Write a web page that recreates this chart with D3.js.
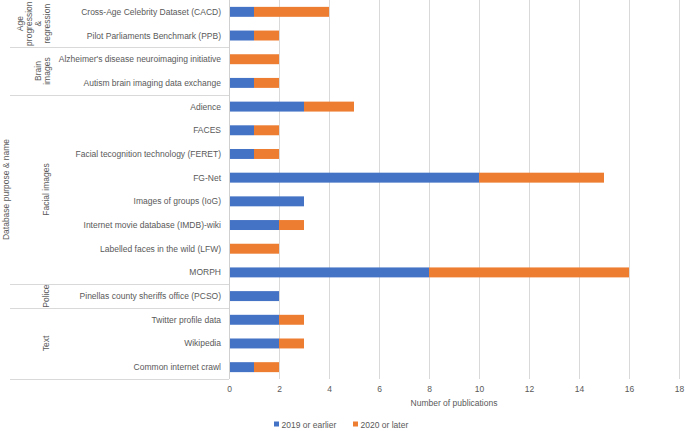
<!DOCTYPE html>
<html>
<head>
<meta charset="utf-8">
<script src="https://cdn.jsdelivr.net/npm/d3@7"></script>
<style>
  html, body { margin: 0; padding: 0; background: #fff; }
  svg { display: block; font-family: "Liberation Sans", Arial, sans-serif; }
</style>
</head>
<body>
<svg id="chart" width="685" height="431"></svg>
<script>
// ---- data ----
const categories = [
  "Cross-Age Celebrity Dataset (CACD)",
  "Pilot Parliaments Benchmark (PPB)",
  "Alzheimer's disease neuroimaging initiative",
  "Autism brain imaging data exchange",
  "Adience",
  "FACES",
  "Facial tecognition technology (FERET)",
  "FG-Net",
  "Images of groups (IoG)",
  "Internet movie database (IMDB)-wiki",
  "Labelled faces in the wild (LFW)",
  "MORPH",
  "Pinellas county sheriffs office (PCSO)",
  "Twitter profile data",
  "Wikipedia",
  "Common internet crawl"
];
const earlier = [1, 1, 0, 1, 3, 1, 1, 10, 3, 2, 0, 8, 2, 2, 2, 1];
const later   = [3, 1, 2, 1, 2, 1, 1, 5, 0, 1, 2, 8, 0, 1, 1, 1];
const groupLabels = [["Age", "progression", "&", "regression"], ["Brain", "images"], ["Facial images"], ["Police"], ["Text"]];
const groupSizes = [2, 2, 8, 1, 3];
const seriesNames = ["2019 or earlier", "2020 or later"];
const xTicks = [0, 2, 4, 6, 8, 10, 12, 14, 16, 18];
const xTitle = "Number of publications";
const yTitle = "Database purpose & name";

// ---- layout ----
const colors = ["#4472C4", "#ED7D31"];
const textColor = "#595959";
const mLeft = 229, mRight = 679, mTop = 0, mBottom = 379;
const svg = d3.select("#chart");

const x = d3.scaleLinear().domain([0, 18]).range([mLeft, mRight]);
const y = d3.scaleBand().domain(categories).range([mTop, mBottom]).paddingInner(0.58).paddingOuter(0.29);

// gridlines
svg.append("g").selectAll("line").data(xTicks.slice(1)).join("line")
  .attr("x1", d => Math.round(x(d)) + 0.5).attr("x2", d => Math.round(x(d)) + 0.5)
  .attr("y1", mTop).attr("y2", mBottom)
  .attr("stroke", "#d9d9d9").attr("stroke-width", 1);

// bars
const stackData = categories.map((c, i) => ({cat: c, a: earlier[i], b: later[i]}));
const stack = d3.stack().keys(["a", "b"])(stackData);
svg.append("g").selectAll("g").data(stack).join("g")
  .attr("fill", (d, i) => colors[i])
  .selectAll("rect").data(d => d).join("rect")
  .attr("x", d => x(d[0]))
  .attr("width", d => x(d[1]) - x(d[0]))
  .attr("y", d => y(d.data.cat))
  .attr("height", y.bandwidth());

// category axis line
svg.append("line").attr("x1", mLeft + 0.5).attr("x2", mLeft + 0.5).attr("y1", mTop).attr("y2", mBottom)
  .attr("stroke", "#d0d0d0");

// category labels
svg.append("g").selectAll("text").data(categories).join("text")
  .attr("x", mLeft - 8)
  .attr("y", d => y(d) + y.bandwidth() / 2)
  .attr("text-anchor", "end").attr("dominant-baseline", "central")
  .attr("font-size", "8.5px").attr("fill", textColor)
  .text(d => d);

// group separators & labels
const step = y.step();
let cum = 0;
const gG = svg.append("g");
groupSizes.forEach((n, gi) => {
  const y0 = cum * step, y1 = (cum + n) * step;
  const yb = Math.round(y1) + 0.5;
  gG.append("line").attr("x1", 10).attr("x2", mLeft).attr("y1", yb).attr("y2", yb)
    .attr("stroke", "#d9d9d9");
  const lines = groupLabels[gi];
  const yc = (y0 + y1) / 2;
  lines.forEach((t, li) => {
    const xc = lines.length === 1 ? 46 : 47 - (lines.length - 1 - li) * 9;
    gG.append("text")
      .attr("transform", `translate(${xc},${yc}) rotate(-90)`)
      .attr("text-anchor", "middle").attr("dominant-baseline", "central")
      .attr("font-size", "8.5px").attr("fill", textColor)
      .text(t);
  });
  cum += n;
});

// y title
svg.append("text")
  .attr("transform", `translate(6,${(mTop + mBottom) / 2}) rotate(-90)`)
  .attr("text-anchor", "middle").attr("dominant-baseline", "central")
  .attr("font-size", "8.5px").attr("fill", textColor)
  .text(yTitle);

// x axis tick labels
const xAxis = d3.axisBottom(x).tickValues(xTicks).tickSize(0).tickPadding(6);
const xg = svg.append("g").attr("transform", `translate(0,${mBottom + 1})`).call(xAxis);
xg.select(".domain").remove();
xg.selectAll("text").attr("font-size", "8.5px").attr("fill", textColor)
  .attr("font-family", "Liberation Sans, Arial, sans-serif");

// x title
svg.append("text")
  .attr("x", (mLeft + mRight) / 2).attr("y", 403)
  .attr("text-anchor", "middle").attr("dominant-baseline", "central")
  .attr("font-size", "8.5px").attr("fill", textColor)
  .text(xTitle);

// legend
const legendX = [274, 353];
const lg = svg.append("g");
seriesNames.forEach((s, i) => {
  lg.append("rect").attr("x", legendX[i]).attr("y", 421.5).attr("width", 5).attr("height", 5).attr("fill", colors[i]);
  lg.append("text").attr("x", legendX[i] + 7.5).attr("y", 424.5)
    .attr("dominant-baseline", "central")
    .attr("font-size", "8.5px").attr("fill", textColor).text(s);
});
</script>
</body>
</html>
